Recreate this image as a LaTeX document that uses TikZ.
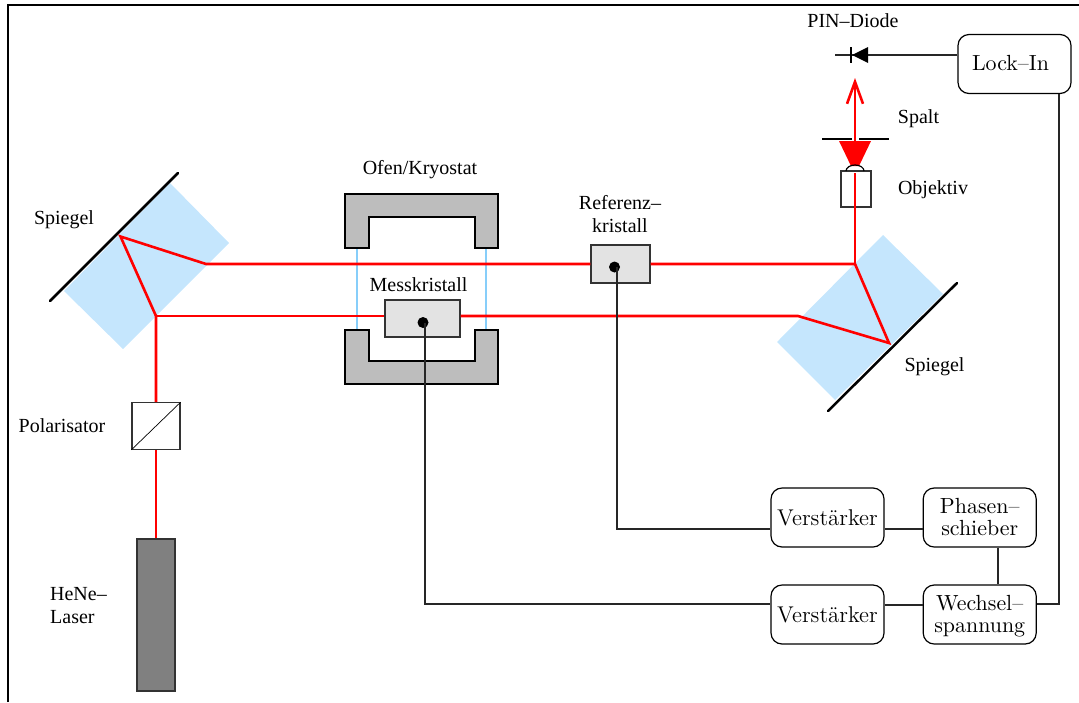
\documentclass[tikz,border=0pt]{standalone}
\usepackage{fontspec}
\usepackage{tikz}
\usetikzlibrary{positioning, arrows.meta}
\newfontfamily\labelfont{Liberation Serif}
\definecolor{mirrorblue}{RGB}{197,230,253}
\definecolor{windowblue}{RGB}{135,206,250}

\begin{document}
\begin{tikzpicture}[
  x=0.5pt, y=-0.5pt,
  lab/.style={font=\labelfont\fontsize{10}{11.5}\selectfont, align=center, inner sep=0pt},
  unit/.style={rectangle, rounded corners=5.5pt, draw, line width=0.6pt, minimum width=56.5pt, minimum height=29.5pt,
    inner sep=0pt, align=center, font=\fontsize{10.95}{11}\selectfont},
  amp/.style={unit, font=\fontsize{11.4}{11}\selectfont},
  crystal/.style={rectangle, draw=black!80, fill=black!11, line width=0.6pt, inner sep=0pt},
  dotm/.style={circle, fill=black, minimum size=5.5pt, inner sep=0pt},
  mirror/.style={line width=1.25pt, line cap=round},
  furnace/.style={draw=black, fill=black!26, line width=1.25pt},
  window/.style={windowblue, line width=1.1pt},
  beam/.style={red, line width=1.3pt},
  wire/.style={black!85, line width=0.55pt}
]
\useasboundingbox (0,0) rectangle (1079,702);
\draw[line width=1pt] (8,702) -- (8,5) -- (1079,5);
% ----- mirrors -----
\fill[mirrorblue] (170,183) -- (229,243) -- (123,349) -- (64,291) -- cycle;
\fill[mirrorblue] (883,235) -- (943,294) -- (835,400) -- (777,342) -- cycle;
\draw[mirror] (50,301) -- (178,173);
\draw[mirror] (828,411) -- (957,283);
% ----- optical components -----
\node[rectangle, draw=black!80, fill=black!50, line width=0.6pt, minimum width=19pt, minimum height=76pt, inner sep=0pt] (laser) at (156,615) {};
\node[rectangle, draw=black!80, line width=0.6pt, minimum width=24pt, minimum height=23.2pt, inner sep=0pt] (pol) at (156,426) {};
\draw[line width=0.35pt] (pol.south west) -- (pol.north east);
\node[crystal, minimum width=37.5pt, minimum height=18.5pt] (mess) at (422.5,318.5) {};
\node[crystal, minimum width=29.5pt, minimum height=19pt] (ref) at (620.5,264) {};
\node[rectangle, draw=black!80, line width=0.6pt, minimum width=15pt, minimum height=18pt, inner sep=0pt] (obj) at (856,189) {};
% ----- furnace -----
\draw[furnace] (345,194) -- (498,194) -- (498,248) -- (475,248) -- (475,217) -- (369,217) -- (369,248) -- (345,248) -- cycle;
\draw[furnace] (345,384) -- (498,384) -- (498,330) -- (475,330) -- (475,361) -- (369,361) -- (369,330) -- (345,330) -- cycle;
\draw[window] (357,249) -- (357,329);
\draw[window] (486,249) -- (486,329);
% ----- beam -----
\coordinate (splitL) at (156,316);
\coordinate (hitL) at (120.5,236.5);
\coordinate (backL) at (206,264);
\coordinate (backR) at (798,316);
\coordinate (hitR) at (889,343);
\coordinate (splitR) at (855,264);
\draw[beam] (laser.north -| splitL) -- (pol.south -| splitL);
\draw[beam] (pol.north -| splitL) -- (splitL) -- (hitL) -- (backL) -- (ref.west);
\draw[beam] (splitL) -- (mess.west |- splitL);
\draw[beam] (mess.east |- splitL) -- (backR) -- (hitR) -- (splitR) -- (ref.east);
\draw[beam] (splitR) -- (855,173);
\draw[beam, -{Straight Barb[length=11pt, width=8pt]}] (855,141) -- (855,78);
\fill[red] (839,141) -- (871,141) -- (859,166) -- (851,166) -- cycle;
\draw[line width=0.6pt] (846,171) arc[start angle=180, end angle=360, x radius=9, y radius=6];
% slit
\draw[line width=1.25pt] (822,139) -- (852,139);
\draw[line width=1.25pt] (859,139) -- (889,139);
% ----- electronics -----
\node[unit] (lock) at (1014.5,64) {\raisebox{0.8pt}{Lock–In}\hspace{4pt}};
\node[amp] (amp1) at (827.5,517.5) {\raisebox{-1pt}{Verstärker}};
\node[unit, right=19pt of amp1] (phase) {Phasen–\hspace{2pt}\\schieber\hspace{2pt}};
\node[amp] (amp2) at (827.5,614.5) {\raisebox{-0.7pt}{Verstärker}};
\node[unit, right=19pt of amp2] (ac) {\rule{0pt}{9pt}Wechsel–\\spannung};
\node[dotm] (dotm) at (423,322.5) {};
\node[dotm] (dotr) at (614.5,267) {};
\draw[wire] ([xshift=1pt]dotm.center) |- ([yshift=5.25pt]amp2.west);
\draw[wire] ([xshift=1.25pt]dotr.center) |- ([yshift=-5.75pt]amp1.west);
\draw[wire] ([yshift=-5.75pt]amp1.east) -- ([yshift=-5.75pt]phase.west);
\draw[wire] ([yshift=4.75pt]amp2.east) -- ([yshift=4.75pt]ac.west);
\draw[wire] (phase.south -| 998,0) -- (ac.north -| 998,0);
\draw[wire] ([yshift=5.25pt]ac.east) -| (lock.south -| 1059,0);
% ----- diode -----
\coordinate (diodeend) at (835,55);
\draw[wire] ([yshift=4.5pt]lock.west) -- (diodeend);
\draw[line width=0.6pt] (851,47) -- (851,63);
\fill (852,55) -- (868,47) -- (868,63) -- cycle;
% ----- labels -----
\node[lab] (lpin) at (853,21) {PIN–Diode};
\node[lab] (lspalt) at (918.5,119) {Spalt};
\node[lab] (lobj) at (933,189.5) {Objektiv};
\node[lab] (lref) at (620,214.5) {Referenz–\\kristall};
\node[lab] (lofen) at (420,170) {Ofen/Kryostat};
\node[lab] (lmess) at (418.5,285) {Messkristall};
\node[lab] (lspl) at (64,219.5) {Spiegel};
\node[lab] (lspr) at (934.5,367) {Spiegel};
\node[lab] (lpol) at (62,426) {Polarisator};
\node[lab, align=left] (lhene) at (78.5,606) {HeNe–\\Laser};
\end{tikzpicture}
\end{document}
